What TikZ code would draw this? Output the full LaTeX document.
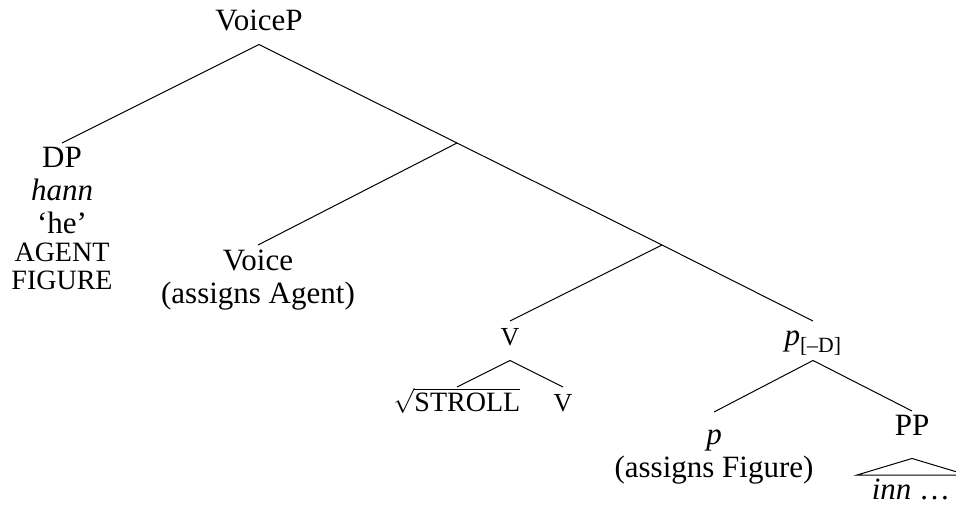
\documentclass[tikz,border=0pt]{standalone}
\usepackage{amsmath}
\usepackage{fontspec}
\setmainfont{Liberation Serif}
\newcommand{\feat}[1]{{\fontsize{28}{29}\selectfont #1}}
\newcommand{\featv}{{\fontsize{26}{27}\selectfont V}}
\usetikzlibrary{calc}

\begin{document}
\begin{tikzpicture}[x=1pt,y=-1pt,line width=1pt,
    main/.style={font=\fontsize{31}{33}\selectfont, inner xsep=0pt, inner ysep=4pt,
      align=center, anchor=north, execute at begin node=\vphantom{A}},
    head/.style={main, text depth=10pt}]
      \useasboundingbox (0,0) rectangle (956,509);

      \node[head](voicep) at (259,5){VoiceP};
      \coordinate (a) at (457,143);
      \coordinate (b) at (662,245);

      \node[main](dp) at (62,143){DP\\\textit{hann}\\‘he’\\[-5pt]\feat{AGENT}\\[-5pt]\feat{FIGURE}};
      \node[main](voice) at (258,245){Voice\\(assigns Agent)};

      \node[head](v) at (510,321){\featv};
      \node[head](pd) at (813,321){\textit{p}\textsubscript{[–D]}};

      \node[main, inner ysep=0pt](stroll) at (457,387){$\sqrt{\text{\feat{STROLL}}}$};
      \node[main](vv) at (563,387){\featv};

      \node[main](p) at (714,412){\rule{0pt}{28pt}\textit{p}\\(assigns Figure)};
      \node[head, text depth=18pt](pp) at (912,411){PP};

      \coordinate (tl) at (857,475);
      \coordinate (tr) at (967,475);
      \node[main, inner ysep=2pt](inn) at (911,476){\textit{inn} …};

      \path
      (voicep.south) edge (dp.north)
      (voicep.south) edge (a)
      (a) edge (voice.north)
      (a) edge (b)
      (b) edge (v.north)
      (b) edge (pd.north)
      (v.south) edge (stroll.north)
      (v.south) edge (vv.north)
      (pd.south) edge (p.north)
      (pd.south) edge (pp.north)
      ;

      \draw (pp.south) -- (tl) -- (tr) -- cycle;

    \end{tikzpicture}
\end{document}
